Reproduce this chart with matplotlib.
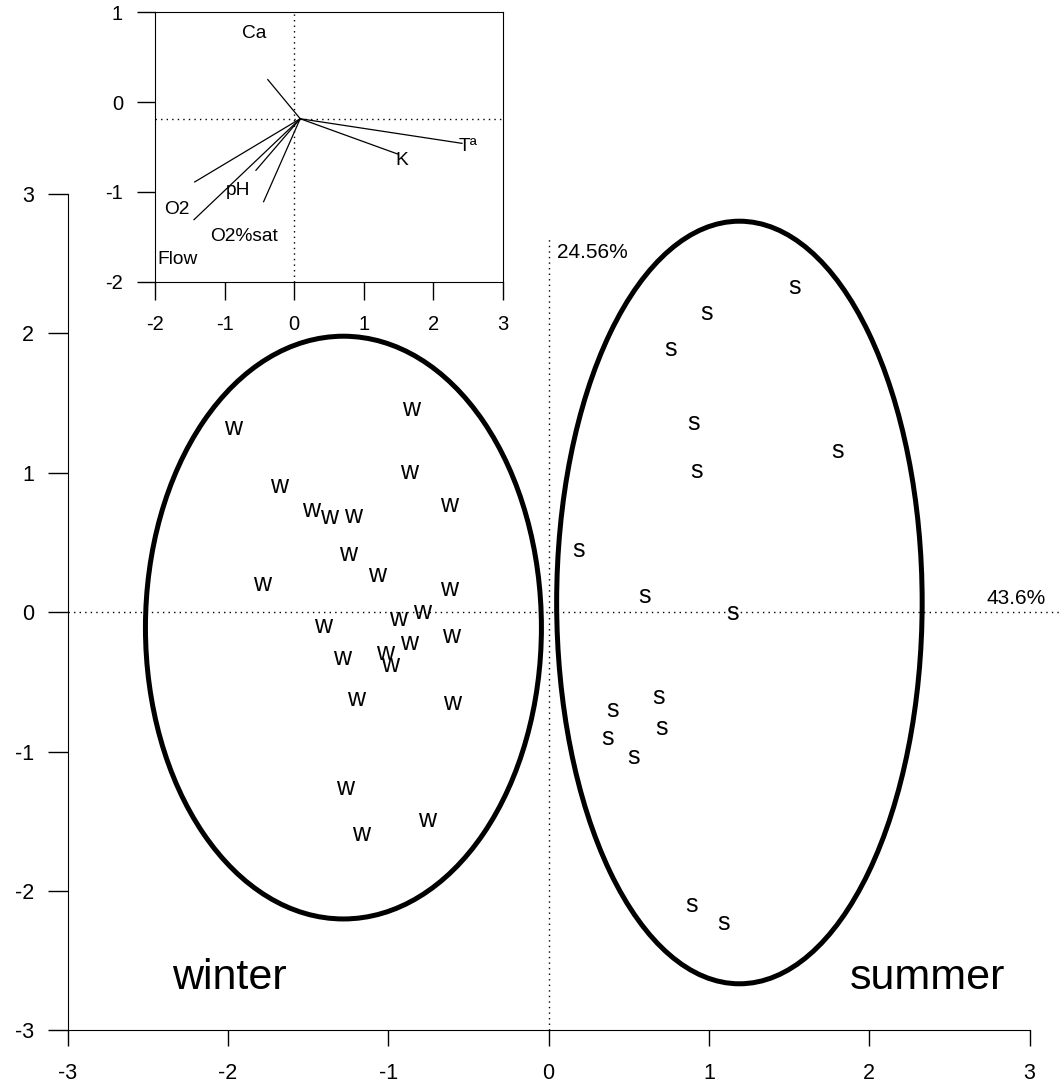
import matplotlib.pyplot as plt
from matplotlib.patches import Ellipse

plt.rcParams['font.family'] = ['Liberation Sans', 'DejaVu Sans']
plt.rcParams['axes.unicode_minus'] = False

# Main PCA scores (winter / summer samples)
winter_x = [-0.86, -1.97, -0.87, -1.68, -0.62, -1.48, -1.37, -1.22, -1.25, -1.07,
            -1.79, -0.62, -0.79, -0.94, -1.41, -0.61, -0.87, -1.29, -1.02, -0.99,
            -1.20, -0.60, -1.27, -0.76, -1.17]
winter_y = [1.46, 1.32, 1.005, 0.905, 0.77, 0.73, 0.68, 0.69, 0.42, 0.27,
            0.20, 0.165, 0.0, -0.05, -0.10, -0.17, -0.22, -0.33, -0.29, -0.38,
            -0.62, -0.65, -1.26, -1.49, -1.59]
summer_x = [1.535, 0.986, 0.762, 0.905, 1.80, 0.924, 0.188, 0.60, 1.15,
            0.687, 0.40, 0.706, 0.369, 0.531, 0.893, 1.092]
summer_y = [2.33, 2.15, 1.89, 1.36, 1.16, 1.01, 0.445, 0.115, -0.007,
            -0.61, -0.70, -0.83, -0.90, -1.04, -2.10, -2.23]

# Group ellipses: centre x, centre y, width, height
winter_ell = (-1.28, -0.11, 2.47, 4.18)
summer_ell = (1.19, 0.07, 2.28, 5.47)

# Loadings (inset biplot)
origin = (0.086, -0.186)
var_names = ['Ca', 'Tª', 'K', 'O2', 'Flow', 'pH', 'O2%sat']
var_x = [-0.38, 2.41, 1.49, -1.43, -1.44, -0.55, -0.44]
var_y = [0.25, -0.46, -0.58, -0.89, -1.31, -0.76, -1.11]
label_x = [-0.58, 2.50, 1.545, -1.69, -1.675, -0.80, -0.727]
label_y = [0.76, -0.49, -0.65, -1.196, -1.756, -0.984, -1.493]

ticks_main = [-3, -2, -1, 0, 1, 2, 3]
ticks_in_x = [-2, -1, 0, 1, 2, 3]
ticks_in_y = [-2, -1, 0, 1]

fig = plt.figure(figsize=(10.61, 10.9), dpi=100)

ax = fig.add_axes([0.0638, 0.0546, 0.9368, 0.7674])
ax.set_xlim(-3, 3.2)
ax.set_ylim(-3, 3)
for s in ['top', 'right']:
    ax.spines[s].set_visible(False)
ax.spines['left'].set_bounds(-3, 3)
ax.spines['bottom'].set_bounds(-3, 3)
ax.set_xticks(ticks_main)
ax.set_yticks(ticks_main)
ax.tick_params(direction='out', width=1, labelsize=15.5)
ax.tick_params(axis='x', length=11.5, pad=12)
ax.tick_params(axis='y', length=14.4, pad=10)

dots = (0, (1, 3))
ax.plot([0, 0], [-3, 2.7], color='black', lw=1, ls=dots)
ax.plot([-3, 3.2], [0, 0], color='black', lw=1, ls=dots, clip_on=False)

for (cx, cy, w, h) in [winter_ell, summer_ell]:
    ax.add_patch(Ellipse((cx, cy), w, h, fill=False, lw=3.6, edgecolor='black'))

for x, y in zip(winter_x, winter_y):
    ax.text(x, y, 'w', fontsize=18, ha='center', va='center')
for x, y in zip(summer_x, summer_y):
    ax.text(x, y, 's', fontsize=18, ha='center', va='center')

ax.text(-1.99, -2.62, 'winter', fontsize=31, ha='center', va='center')
ax.text(2.36, -2.62, 'summer', fontsize=31, ha='center', va='center')
ax.text(0.05, 2.58, '24.56%', fontsize=15, ha='left', va='center')
ax.text(2.73, 0.10, '43.6%', fontsize=15, ha='left', va='center', clip_on=False)

# Inset with variable loadings
ins = fig.add_axes([0.1461, 0.7416, 0.328, 0.2472])
ins.set_xlim(-2, 3)
ins.set_ylim(-2, 1)
ins.set_xticks(ticks_in_x)
ins.set_yticks(ticks_in_y)
ins.tick_params(direction='out', length=13, width=1, labelsize=14.5)
ins.tick_params(axis='x', pad=11)
ins.tick_params(axis='y', pad=10)
ins.axvline(0, color='black', lw=1, ls=dots)
ins.axhline(origin[1], color='black', lw=1, ls=dots)
for vx, vy in zip(var_x, var_y):
    ins.plot([origin[0], vx], [origin[1], vy], color='black', lw=0.9)
for name, lx, ly in zip(var_names, label_x, label_y):
    ins.text(lx, ly, name, fontsize=13.8, ha='center', va='center')

fig.savefig('out.png', dpi=100)
